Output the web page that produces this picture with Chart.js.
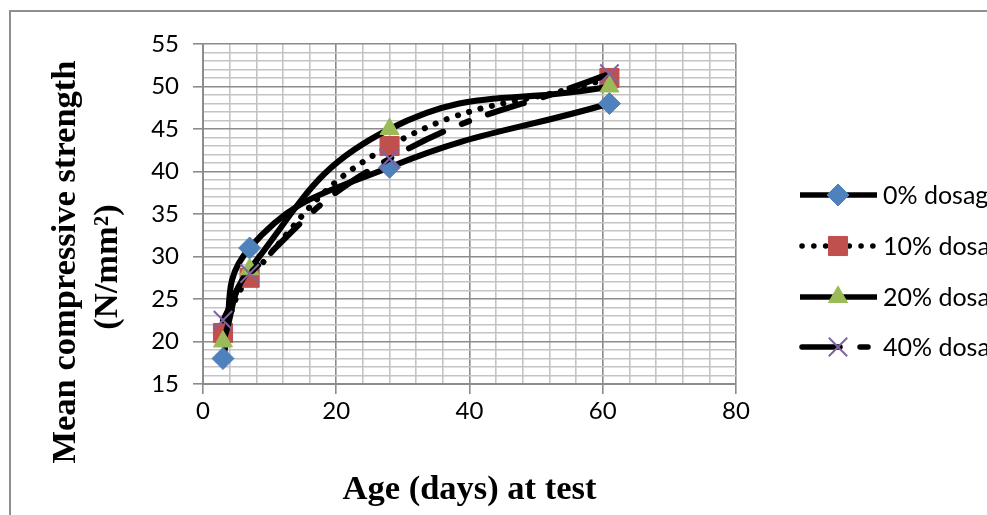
<!DOCTYPE html>
<html>
<head>
<meta charset="utf-8">
<script src="https://cdn.jsdelivr.net/npm/chart.js@4.4.0/dist/chart.umd.min.js"></script>
<style>
  body { margin: 0; background: #fff; overflow: hidden; }
  #frame { position: absolute; left: 9px; top: 10px; width: 1200px; height: 800px; border: 2px solid #8f8f8f; }
  #c { position: absolute; left: 0; top: 0; }
</style>
</head>
<body>
<div id="frame"></div>
<canvas id="c" width="987" height="515"></canvas>
<script>
// chart data
const ages = [3, 7, 28, 61];
const dosage0 = [18, 31, 40.5, 48];
const dosage10 = [21, 27.5, 43, 51];
const dosage20 = [20, 28.5, 45, 50];
const dosage40 = [22.5, 28, 41.5, 51.5];
const seriesNames = ['0% dosage', '10% dosage', '20% dosage', '40% dosage'];
const yTitle = ['Mean compressive strength', '(N/mm²)'];
const xTitle = 'Age (days) at test';

const MAJOR = '#8c8c8c';
const MINOR = '#c4c4c4';

function pts(ys) {
    return ages.map((a, i) => ({ x: a, y: ys[i] }));
}

const datasets = [
    { label: seriesNames[0], data: pts(dosage0), borderDash: [], borderCapStyle: 'butt',
      pointStyle: 'rectRot', pointRadius: 11, pointBackgroundColor: '#4f81bd', pointBorderColor: '#4f81bd', order: 4 },
    { label: seriesNames[1], data: pts(dosage10), borderDash: [0.1, 11.7], borderCapStyle: 'round',
      pointStyle: 'rect', pointRadius: 13.5, pointBackgroundColor: '#c0504d', pointBorderColor: '#c0504d', order: 3 },
    { label: seriesNames[2], data: pts(dosage20), borderDash: [], borderCapStyle: 'butt',
      pointStyle: 'triangle', pointRadius: 11, pointBackgroundColor: '#9bbb59', pointBorderColor: '#9bbb59', order: 2 },
    { label: seriesNames[3], data: pts(dosage40), borderDash: [38, 20, 8, 20], borderCapStyle: 'round',
      pointStyle: 'crossRot', pointRadius: 13, pointBackgroundColor: '#8064a2', pointBorderColor: '#8064a2', pointBorderWidth: 2, order: 1 }
];
datasets.forEach(d => {
    d.borderColor = '#000';
    d.borderWidth = 6;
    d.tension = 0.45;
    d.fill = false;
    if (!d.pointBorderWidth) d.pointBorderWidth = 1;
});

// legend on the right and the y title, drawn by hand
const extras = {
    id: 'extras',
    afterDraw(chart) {
        const ctx = chart.ctx;
        ctx.save();
        // y axis title
        ctx.fillStyle = '#000';
        ctx.font = 'bold 34.5px "Liberation Serif"';
        ctx.textAlign = 'center';
        ctx.textBaseline = 'middle';
        ctx.translate(66, 262);
        ctx.rotate(-Math.PI / 2);
        ctx.fillText(yTitle[0], 0, 0);
        ctx.fillText(yTitle[1], -5, 42);
        ctx.restore();

        // legend
        const rows = [195, 246, 297, 347];
        datasets.forEach((d, i) => {
            const y = rows[i];
            ctx.save();
            ctx.strokeStyle = '#000';
            ctx.lineWidth = 5.5;
            ctx.lineCap = d.borderCapStyle;
            ctx.setLineDash(d.borderDash);
            ctx.beginPath();
            ctx.moveTo(d.borderDash.length ? 802 : 800, y);
            ctx.lineTo(877, y);
            ctx.stroke();
            ctx.restore();
            ctx.save();
            ctx.fillStyle = d.pointBackgroundColor;
            ctx.strokeStyle = d.pointBorderColor;
            ctx.lineWidth = d.pointBorderWidth;
            Chart.helpers.drawPoint(ctx, { pointStyle: d.pointStyle, radius: d.pointRadius, rotation: 0, borderWidth: d.pointBorderWidth }, 838, y);
            ctx.restore();
            ctx.save();
            ctx.fillStyle = '#000';
            ctx.font = '25px Lato';
            ctx.textBaseline = 'middle';
            ctx.fillText(d.label, 883, y + 1);
            ctx.restore();
        });
    }
};

new Chart(document.getElementById('c'), {
    type: 'line',
    data: { datasets: datasets },
    plugins: [extras],
    options: {
        responsive: false,
        animation: false,
        devicePixelRatio: 1,
        layout: { padding: { top: 44, right: 251, left: 0, bottom: 0 } },
        plugins: { legend: { display: false }, tooltip: { enabled: false } },
        scales: {
            x: {
                type: 'linear',
                min: 0, max: 80,
                afterFit: s => { s.height = 131; },
                ticks: {
                    stepSize: 4, autoSkip: false, maxRotation: 0, padding: 3,
                    color: '#000', font: { family: 'Lato', size: 24 },
                    callback: v => (v % 20 === 0 ? v : '')
                },
                grid: {
                    color: c => (c.tick && c.tick.value % 20 === 0 ? MAJOR : MINOR),
                    lineWidth: 1.6,
                    tickColor: c => (c.tick && c.tick.value % 20 === 0 ? MAJOR : 'rgba(0,0,0,0)'),
                    tickLength: 10, tickWidth: 1.6
                },
                border: { color: MAJOR, width: 2 },
                title: {
                    display: true, text: xTitle, color: '#000',
                    font: { family: 'Liberation Serif', size: 34.5, weight: 'bold' },
                    padding: { top: 0, bottom: 4 }
                }
            },
            y: {
                min: 15, max: 55,
                afterFit: s => { s.width = 203; },
                ticks: {
                    stepSize: 1, autoSkip: false, padding: 14,
                    color: '#000', font: { family: 'Lato', size: 24 },
                    callback: v => (v % 5 === 0 ? v : '')
                },
                grid: {
                    color: c => (c.tick && c.tick.value % 5 === 0 ? MAJOR : MINOR),
                    lineWidth: 1.6,
                    tickColor: c => (c.tick && c.tick.value % 5 === 0 ? MAJOR : 'rgba(0,0,0,0)'),
                    tickLength: 10, tickWidth: 1.6
                },
                border: { color: MAJOR, width: 2 }
            }
        }
    }
});
</script>
</body>
</html>
